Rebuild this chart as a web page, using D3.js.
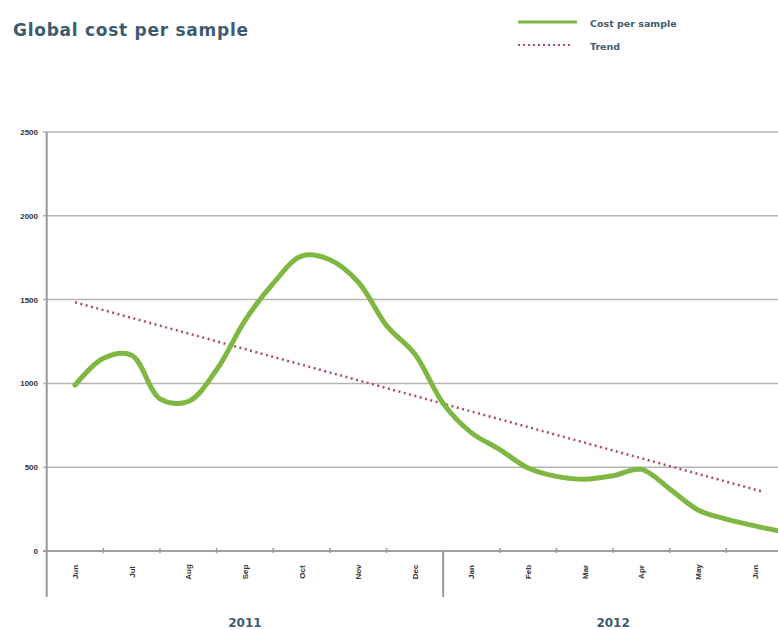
<!DOCTYPE html>
<html>
<head>
<meta charset="utf-8">
<script src="https://cdn.jsdelivr.net/npm/d3@7"></script>
<style>
  html, body { margin: 0; padding: 0; background: #fff; }
  svg { display: block; }
</style>
</head>
<body>
<svg id="chart" width="778" height="630"></svg>
<script>
// Month categories along the bottom axis (Jun 2011 .. Jun 2012)
const months = ["Jun", "Jul", "Aug", "Sep", "Oct", "Nov", "Dec", "Jan", "Feb", "Mar", "Apr", "May", "Jun"];
// Year groups: label and index range of months in the group
const yearLabels = ["2011", "2012"];
const yearStart = [0, 7];
const yearEnd = [7, 13];
// Y axis ticks
const yTicks = [0, 500, 1000, 1500, 2000, 2500];
// Cost per sample, sampled every half month (position in month index units)
const costSteps = [0, 0.5, 1, 1.5, 2, 2.5, 3, 3.5, 4, 4.5, 5, 5.5, 6, 6.5, 7, 7.5, 8, 8.5, 9, 9.5, 10, 10.5, 11, 11.5, 12, 12.5];
const costValues = [990, 1150, 1168, 908, 892, 1081, 1375, 1597, 1760, 1738, 1605, 1345, 1175, 880, 705, 605, 495, 445, 428, 449, 487, 370, 245, 190, 150, 115];
// Linear trend: start and end points (month index, value)
const trendSteps = [0, 12.16];
const trendValues = [1484, 352];

const svg = d3.select("#chart");
const titleColor = "#3d5b6f";
const green = "#7eb741";
const trendColor = "#b04a64";
const gridColor = "#b4b4b4";

const x = d3.scaleLinear().domain([-0.5, 12.5]).range([46.7, 783]);
const y = d3.scaleLinear().domain([0, 2500]).range([551, 132]);

// Title
svg.append("text")
  .attr("x", 13).attr("y", 36)
  .attr("font-family", "'DejaVu Sans', sans-serif")
  .attr("font-weight", "bold")
  .attr("font-size", 17)
  .attr("textLength", 235)
  .attr("lengthAdjust", "spacing")
  .attr("fill", titleColor)
  .text("Global cost per sample");

// Legend
const legend = svg.append("g");
legend.append("line")
  .attr("x1", 518).attr("x2", 577).attr("y1", 22).attr("y2", 22)
  .attr("stroke", green).attr("stroke-width", 3);
legend.append("line")
  .attr("x1", 518).attr("x2", 572).attr("y1", 45).attr("y2", 45)
  .attr("stroke", trendColor).attr("stroke-width", 2).attr("stroke-dasharray", "2,3");
legend.selectAll("text.leg").data(["Cost per sample", "Trend"]).join("text")
  .attr("class", "leg")
  .attr("x", 590).attr("y", (d, i) => 27 + i * 23)
  .attr("font-family", "'DejaVu Sans', sans-serif")
  .attr("font-weight", "bold")
  .attr("font-size", 9.5)
  .attr("fill", titleColor)
  .text(d => d);

// Horizontal gridlines
svg.append("g").selectAll("line").data(yTicks.filter(d => d > 0)).join("line")
  .attr("x1", 43).attr("x2", 778)
  .attr("y1", d => y(d)).attr("y2", d => y(d))
  .attr("stroke", gridColor).attr("stroke-width", 1.5);

// Y axis tick labels
svg.append("g").selectAll("text").data(yTicks).join("text")
  .attr("x", 38).attr("y", d => y(d) + 3)
  .attr("text-anchor", "end")
  .attr("font-family", "'Liberation Sans', Arial, sans-serif")
  .attr("font-weight", "bold")
  .attr("font-size", 8)
  .attr("fill", "#333")
  .text(d => d);

// X axis baseline
svg.append("line")
  .attr("x1", 43).attr("x2", 778)
  .attr("y1", y(0)).attr("y2", y(0))
  .attr("stroke", "#a0a0a0").attr("stroke-width", 2);

// Small ticks at month boundaries
const bounds = d3.range(1, 13).map(i => i - 0.5).filter(b => !yearStart.includes(b + 0.5));
svg.append("g").selectAll("line").data(bounds).join("line")
  .attr("x1", d => x(d)).attr("x2", d => x(d))
  .attr("y1", y(0) - 3).attr("y2", y(0) + 2)
  .attr("stroke", "#999").attr("stroke-width", 1.5);

// Left axis line, extended down through the category area
svg.append("line")
  .attr("x1", x(-0.5)).attr("x2", x(-0.5))
  .attr("y1", y(2500)).attr("y2", 597)
  .attr("stroke", "#999").attr("stroke-width", 2);

// Year separators
svg.append("g").selectAll("line").data(yearStart.filter(d => d > 0)).join("line")
  .attr("x1", d => x(d - 0.5)).attr("x2", d => x(d - 0.5))
  .attr("y1", y(0)).attr("y2", 597)
  .attr("stroke", "#999").attr("stroke-width", 2);

// Month labels, rotated
svg.append("g").selectAll("text").data(months).join("text")
  .attr("transform", (d, i) => `translate(${x(i) + 3},572) rotate(-90)`)
  .attr("text-anchor", "middle")
  .attr("font-family", "'Liberation Sans', Arial, sans-serif")
  .attr("font-weight", "bold")
  .attr("font-size", 8)
  .attr("fill", "#333")
  .text(d => d);

// Year labels
svg.append("g").selectAll("text").data(yearLabels).join("text")
  .attr("x", (d, i) => Math.min((x(yearStart[i] - 0.5) + x(yearEnd[i] - 0.5)) / 2, 625))
  .attr("y", 627)
  .attr("text-anchor", "middle")
  .attr("font-family", "'DejaVu Sans', sans-serif")
  .attr("font-weight", "bold")
  .attr("font-size", 12)
  .attr("fill", titleColor)
  .text(d => d);

// Trend line
const trendLine = d3.line().x(d => x(d[0])).y(d => y(d[1]));
svg.append("path")
  .datum(d3.zip(trendSteps, trendValues))
  .attr("d", trendLine)
  .attr("fill", "none")
  .attr("stroke", trendColor)
  .attr("stroke-width", 2.5)
  .attr("stroke-dasharray", "2,3.5");

// Cost per sample curve
const costLine = d3.line().x(d => x(d[0])).y(d => y(d[1])).curve(d3.curveCatmullRom.alpha(0.5));
svg.append("path")
  .datum(d3.zip(costSteps, costValues))
  .attr("d", costLine)
  .attr("fill", "none")
  .attr("stroke", green)
  .attr("stroke-width", 5)
  .attr("stroke-linecap", "round")
  .attr("stroke-linejoin", "round");
</script>
</body>
</html>
